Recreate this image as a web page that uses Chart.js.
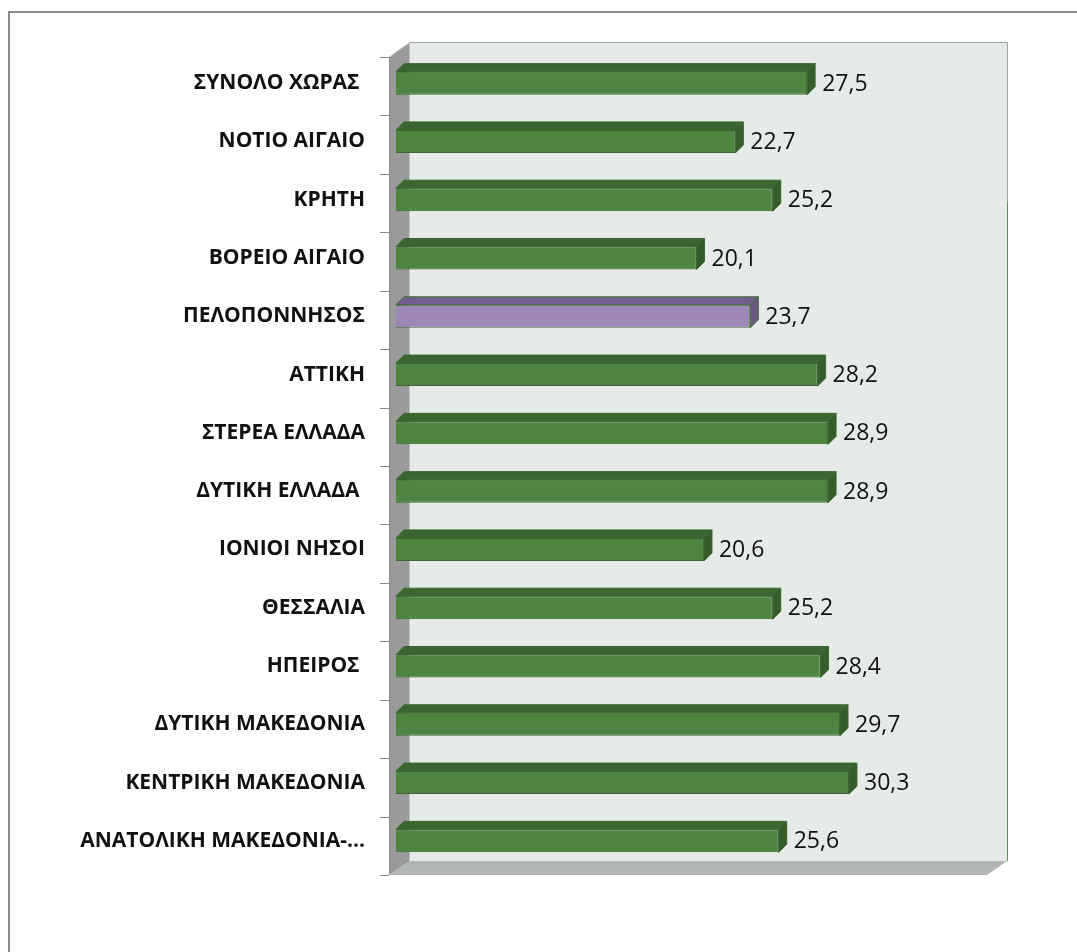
<!DOCTYPE html>
<html>
<head>
<meta charset="utf-8">
<script src="https://cdn.jsdelivr.net/npm/chart.js@4/dist/chart.umd.min.js"></script>
<style>
  html, body { margin: 0; padding: 0; background: #fff; }
  #wrap { width: 1077px; height: 952px; }
</style>
</head>
<body>
<div id="wrap"><canvas id="myBarChart" width="1077" height="952"></canvas></div>
<script>
// Περιφέρειες (από πάνω προς τα κάτω)
const categories = [
  'ΣΥΝΟΛΟ ΧΩΡΑΣ ', 'ΝΟΤΙΟ ΑΙΓΑΙΟ', 'ΚΡΗΤΗ', 'ΒΟΡΕΙΟ ΑΙΓΑΙΟ', 'ΠΕΛΟΠΟΝΝΗΣΟΣ',
  'ΑΤΤΙΚΗ', 'ΣΤΕΡΕΑ ΕΛΛΑΔΑ', 'ΔΥΤΙΚΗ ΕΛΛΑΔΑ ', 'ΙΟΝΙΟΙ ΝΗΣΟΙ', 'ΘΕΣΣΑΛΙΑ',
  'ΗΠΕΙΡΟΣ ', 'ΔΥΤΙΚΗ ΜΑΚΕΔΟΝΙΑ', 'ΚΕΝΤΡΙΚΗ ΜΑΚΕΔΟΝΙΑ', 'ΑΝΑΤΟΛΙΚΗ ΜΑΚΕΔΟΝΙΑ-...'
];
const values = [27.5, 22.7, 25.2, 20.1, 23.7, 28.2, 28.9, 28.9, 20.6, 25.2, 28.4, 29.7, 30.3, 25.6];
const highlightCategory = 'ΠΕΛΟΠΟΝΝΗΣΟΣ';
const axisMax = 40;

// Χρώματα
const green = { front: '#4f8542', top: '#3b6531', side: '#355d2c', border: '#3a682f' };
const purple = { front: '#9e88b8', top: '#735e8e', side: '#6b5784', border: '#3e6e35' };
const pick = (i) => (categories[i] === highlightCategory ? purple : green);

const depth = { dx: 8, dy: -8 };

// Τοίχοι / δάπεδο / 3Δ όψεις
const box3d = {
  id: 'box3d',
  beforeDraw(chart) {
    const c = chart.ctx, a = chart.chartArea;
    // εξωτερικό πλαίσιο
    c.save();
    c.strokeStyle = '#8a8a8a';
    c.lineWidth = 2;
    c.strokeRect(9, 12, 1200, 1200);
    const F = { l: a.left - 7, t: a.top + 3, r: a.right - 7, b: a.bottom + 5 };
    const B = { l: a.left + 14, t: a.top - 12, r: a.right + 13, b: a.bottom - 9 };
    // πίσω τοίχος
    c.fillStyle = '#e6ebe8';
    c.fillRect(B.l, B.t, B.r - B.l, B.b - B.t);
    c.strokeStyle = '#9aa39c';
    c.lineWidth = 1;
    c.beginPath(); c.moveTo(B.l, B.t + 0.5); c.lineTo(B.r + 0.5, B.t + 0.5); c.lineTo(B.r + 0.5, B.b); c.stroke();
    c.strokeStyle = '#5f8f52';
    c.beginPath(); c.moveTo(B.r + 0.5, 203); c.lineTo(B.r + 0.5, B.b); c.stroke();
    // δάπεδο
    c.fillStyle = '#b2b6b2';
    c.beginPath();
    c.moveTo(F.l, F.b); c.lineTo(B.l, B.b); c.lineTo(B.r, B.b); c.lineTo(F.r, F.b);
    c.closePath(); c.fill();
    // αριστερός τοίχος
    c.fillStyle = '#9a9a9a';
    c.beginPath();
    c.moveTo(F.l, F.t); c.lineTo(B.l, B.t); c.lineTo(B.l, B.b); c.lineTo(F.l, F.b);
    c.closePath(); c.fill();
    c.strokeStyle = '#c4c4c4';
    c.beginPath(); c.moveTo(F.l + 0.5, F.t); c.lineTo(B.l + 0.5, B.t); c.stroke();
    c.beginPath(); c.moveTo(B.l - 0.5, B.t); c.lineTo(B.l - 0.5, B.b); c.stroke();
    // γραμμή άξονα και υποδιαιρέσεις
    c.strokeStyle = '#8c8c8c';
    c.beginPath(); c.moveTo(F.l + 0.5, F.t); c.lineTo(F.l + 0.5, F.b); c.stroke();
    const n = categories.length, step = (F.b - F.t) / n;
    for (let i = 0; i <= n; i++) {
      const y = Math.round(F.t + i * step) + 0.5;
      c.beginPath(); c.moveTo(F.l - 9, y); c.lineTo(F.l, y); c.stroke();
    }
    c.restore();
  },
  afterDatasetsDraw(chart) {
    const c = chart.ctx;
    const meta = chart.getDatasetMeta(0);
    c.save();
    meta.data.forEach((bar, i) => {
      const col = pick(i);
      const p = bar.getProps(['x', 'y', 'base', 'height'], true);
      const x0 = p.base, x1 = p.x, t = p.y - p.height / 2, b = p.y + p.height / 2;
      const { dx, dy } = depth;
      c.lineWidth = 1;
      c.strokeStyle = col.border;
      // πάνω όψη
      c.fillStyle = col.top;
      c.beginPath();
      c.moveTo(x0, t); c.lineTo(x0 + dx, t + dy); c.lineTo(x1 + dx, t + dy); c.lineTo(x1, t);
      c.closePath(); c.fill(); c.stroke();
      // δεξιά όψη
      c.fillStyle = col.side;
      c.beginPath();
      c.moveTo(x1, t); c.lineTo(x1 + dx, t + dy); c.lineTo(x1 + dx, b + dy); c.lineTo(x1, b);
      c.closePath(); c.fill(); c.stroke();
      // ετικέτα τιμής
      c.fillStyle = '#111';
      c.font = '23px "Open Sans"';
      c.textAlign = 'left';
      c.textBaseline = 'middle';
      c.fillText(values[i].toFixed(1).replace('.', ','), x1 + dx + 7, p.y + 1);
    });
    c.restore();
  }
};

const ctxBar = document.getElementById('myBarChart').getContext('2d');
const myBarChart = new Chart(ctxBar, {
  type: 'bar',
  data: {
    labels: categories,
    datasets: [{
      data: values,
      backgroundColor: values.map((_, i) => pick(i).front),
      borderColor: values.map((_, i) => pick(i).border),
      borderWidth: 1,
      categoryPercentage: 1,
      barPercentage: 0.395,
    }]
  },
  options: {
    indexAxis: 'y',
    responsive: false,
    animation: false,
    layout: { padding: { top: 54, right: 83, bottom: 82, left: 0 } },
    plugins: { legend: { display: false }, tooltip: { enabled: false } },
    scales: {
      x: { display: false, min: 0, max: axisMax },
      y: {
        afterFit: (scale) => { scale.width = 396; },
        grid: { display: false, drawTicks: false },
        border: { display: false },
        ticks: {
          padding: 31,
          color: '#111',
          font: { family: '"Open Sans"', size: 21, weight: 'bold' },
          autoSkip: false,
        }
      }
    }
  },
  plugins: [box3d]
});
</script>
</body>
</html>
